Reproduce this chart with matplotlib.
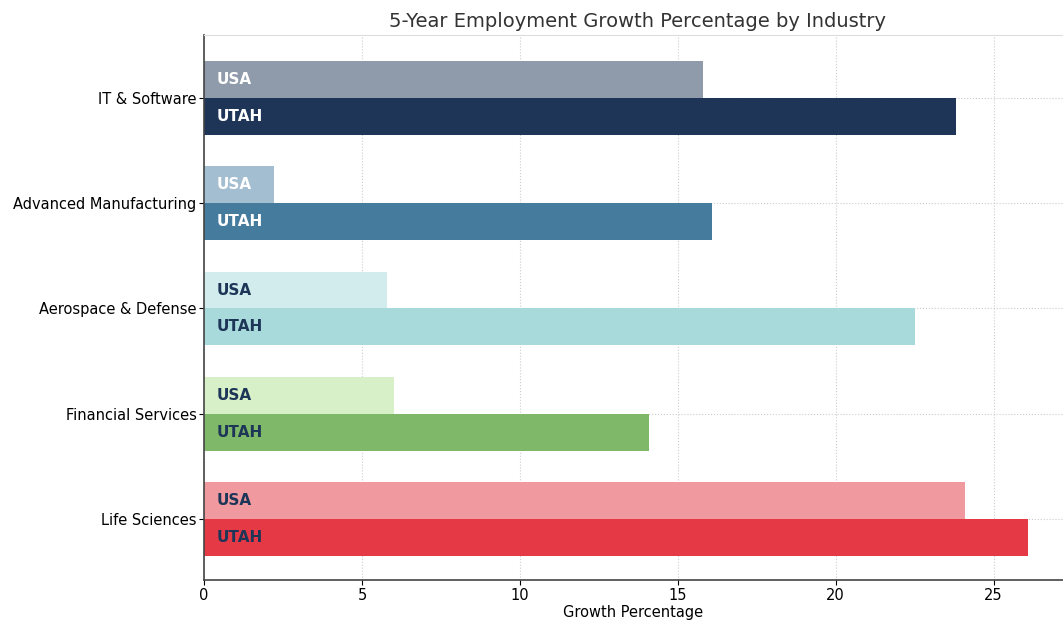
import numpy as np
import matplotlib.pyplot as plt

industries = ["IT & Software", "Advanced Manufacturing", "Aerospace & Defense",
              "Financial Services", "Life Sciences"]
usa = [15.8, 2.2, 5.8, 6.0, 24.1]
utah = [23.8, 16.1, 22.5, 14.1, 26.1]

usa_colors = ["#8f9aab", "#a3bdd1", "#d2ebec", "#d7f0c8", "#f09aa0"]
utah_colors = ["#1e3557", "#457b9d", "#a8dadc", "#80b86a", "#e63946"]
text_colors = ["white", "white", "#1d3557", "#1d3557", "#1d3557"]

fig = plt.figure(figsize=(10.63, 6.22), dpi=100)
ax = fig.add_axes([0.192, 0.0675, 0.808, 0.8765])

y = np.arange(len(industries))
h = 0.35
ax.barh(y - h / 2, usa, height=h, color=usa_colors, zorder=2)
ax.barh(y + h / 2, utah, height=h, color=utah_colors, zorder=2)

for i in range(len(industries)):
    ax.text(0.4, y[i] - h / 2, "USA", va="center", ha="left", fontsize=11,
            fontweight="bold", color=text_colors[i], zorder=3)
    ax.text(0.4, y[i] + h / 2, "UTAH", va="center", ha="left", fontsize=11,
            fontweight="bold", color=text_colors[i], zorder=3)

ax.set_yticks(y)
ax.set_yticklabels(industries, fontsize=10.5)
ax.set_xticks([0, 5, 10, 15, 20, 25])
ax.tick_params(axis="x", labelsize=10.5, pad=2)
ax.tick_params(axis="y", pad=2)
ax.set_xlim(0, 27.2)
ax.set_ylim(4.58, -0.6)

ax.grid(True, linestyle=":", color="#cccccc", linewidth=0.8, zorder=0)
ax.spines["right"].set_visible(False)
ax.spines["top"].set_color("#dddddd")
for s in ["left", "bottom"]:
    ax.spines[s].set_color("#444444")
    ax.spines[s].set_linewidth(1.2)

ax.set_xlabel("Growth Percentage", fontsize=10.5, labelpad=2)
fig.suptitle("5-Year Employment Growth Percentage by Industry", fontsize=14,
             x=0.6, y=0.98, color="#333333")

fig.savefig("out.png", dpi=100)
